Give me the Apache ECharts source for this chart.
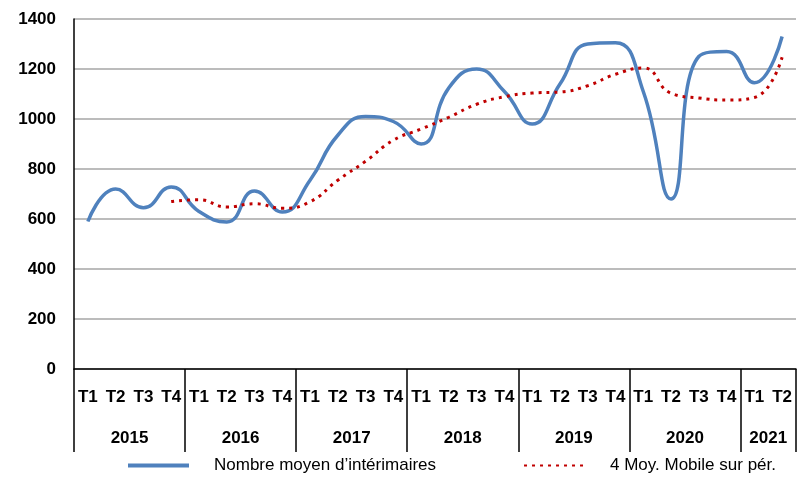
<!DOCTYPE html>
<html>
<head>
<meta charset="utf-8">
<script src="https://cdn.jsdelivr.net/npm/echarts@6/dist/echarts.min.js"></script>
<style>
  html, body { margin: 0; padding: 0; background: #fff; }
  #chart { width: 805px; height: 499px; }
</style>
</head>
<body>
<div id="chart"></div>
<script>
// trimestres et années
var quarters = ["T1","T2","T3","T4","T1","T2","T3","T4","T1","T2","T3","T4",
  "T1","T2","T3","T4","T1","T2","T3","T4","T1","T2","T3","T4","T1","T2"];
var years = ["2015","2016","2017","2018","2019","2020","2021"];
var quartersPerYear = [4, 4, 4, 4, 4, 4, 2];

// Nombre moyen d'intérimaires
var interimaires = [590, 720, 645, 728, 630, 588, 712, 628, 755, 935, 1010, 990,
  900, 1125, 1200, 1110, 980, 1140, 1300, 1305, 1110, 680, 1250, 1270, 1145, 1330];
// 4 Moy. Mobile sur pér.
var moyMobile = [null, null, null, 670, 677, 648, 661, 643, 669, 755, 831, 915,
  960, 1007, 1059, 1089, 1104, 1108, 1133, 1179, 1204, 1103, 1084, 1076, 1086, 1247];

var yTicks = [0, 200, 400, 600, 800, 1000, 1200, 1400];

// bornes et milieux des années (en nombre de trimestres)
var yearBounds = [0];
var yearCenters = [];
quartersPerYear.forEach(function (n, i) {
  yearCenters.push(yearBounds[i] + n / 2);
  yearBounds.push(yearBounds[i] + n);
});

var font = "Liberation Sans";
var myChart = echarts.init(document.getElementById("chart"));
myChart.setOption({
  animation: false,
  grid: { left: 74, right: 9, top: 19, bottom: 130 },
  legend: {
    left: 121,
    top: 452,
    itemWidth: 61,
    itemHeight: 10,
    itemGap: 87,
    itemStyle: { opacity: 0 },
    textStyle: { fontFamily: font, fontSize: 17, color: "#000", padding: [0, 0, 0, 20] },
    data: [
      { name: "Nombre moyen d’intérimaires", lineStyle: { width: 4 } },
      { name: "4 Moy. Mobile sur pér." }
    ]
  },
  xAxis: [
    {
      type: "category",
      data: quarters,
      boundaryGap: true,
      axisLine: { lineStyle: { color: "#000", width: 1.5 } },
      axisTick: { show: false },
      axisLabel: {
        interval: 0,
        margin: 20,
        fontFamily: font,
        fontWeight: "bold",
        fontSize: 17,
        color: "#000"
      }
    },
    {
      type: "value",
      position: "bottom",
      min: 0,
      max: yearBounds[yearBounds.length - 1],
      axisLine: { show: false },
      splitLine: { show: false },
      axisTick: {
        show: true,
        customValues: yearBounds,
        length: 83,
        lineStyle: { color: "#000", width: 1.5 }
      },
      axisLabel: {
        customValues: yearCenters,
        margin: 61,
        fontFamily: font,
        fontWeight: "bold",
        fontSize: 17,
        color: "#000",
        formatter: function (v) {
          var i = yearCenters.indexOf(v);
          return i >= 0 ? years[i] : "";
        }
      }
    }
  ],
  yAxis: {
    type: "value",
    min: yTicks[0],
    max: yTicks[yTicks.length - 1],
    interval: 200,
    axisLine: { show: true, lineStyle: { color: "#000", width: 1.5 } },
    axisTick: { show: false },
    splitLine: { lineStyle: { color: "#a6a6a6", width: 1.5 } },
    axisLabel: {
      margin: 18,
      fontFamily: font,
      fontWeight: "bold",
      fontSize: 17,
      color: "#000",
      formatter: function (v) { return String(v); }
    }
  },
  series: [
    {
      name: "Nombre moyen d’intérimaires",
      type: "line",
      data: interimaires,
      smooth: 0.5,
      symbol: "none",
      z: 3,
      lineStyle: { color: "#4f81bd", width: 3.5 },
      itemStyle: { color: "#4f81bd" }
    },
    {
      name: "4 Moy. Mobile sur pér.",
      type: "line",
      data: moyMobile,
      smooth: 0.5,
      symbol: "none",
      z: 4,
      lineStyle: { color: "#c00000", width: 3, type: [3, 5] },
      itemStyle: { color: "#c00000" }
    }
  ]
});
</script>
</body>
</html>
